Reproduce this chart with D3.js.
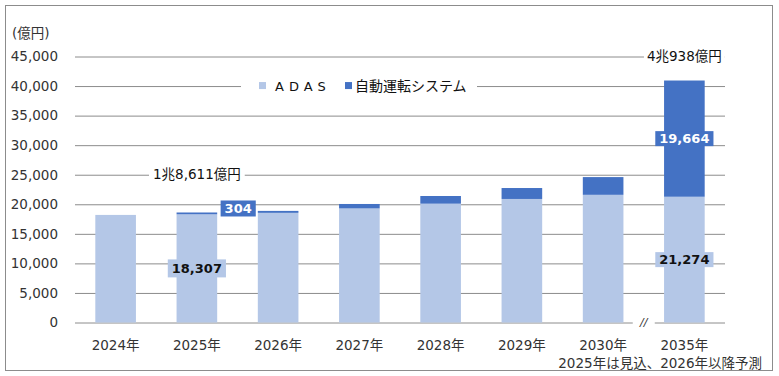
<!DOCTYPE html>
<html>
  <head>
    <meta charset="UTF-8">
    <title>ADAS / 自動運転システム 市場規模</title>
    <script src="https://cdnjs.cloudflare.com/ajax/libs/d3/7.8.5/d3.min.js"></script>
    <style type="text/css">
      body {
        margin: 0px;
        background: #fff;
      }
      svg text {
        font-family: "DejaVu Sans", "Noto Sans CJK JP", sans-serif;
      }
      .tick line {
        stroke: #8c8c8c;
      }
      .domain {
        display: none;
      }
    </style>
  </head>
  <body>
    <div id="chart"></div>
    <script>
      // data (億円)
      const years = ['2024年', '2025年', '2026年', '2027年', '2028年', '2029年', '2030年', '2035年'];
      const adas = [18200, 18307, 18550, 19300, 20100, 20900, 21600, 21274];
      const autoSys = [0, 304, 330, 750, 1300, 1850, 3000, 19664];
      const yTicks = [0, 5000, 10000, 15000, 20000, 25000, 30000, 35000, 40000, 45000];
      const seriesNames = ['ADAS', '自動運転システム'];
      const colors = ['#b4c7e7', '#4472c4'];

      const width = 779, height = 376;
      const margin = {top: 56.5, right: 54, bottom: 53.5, left: 75};

      const svg = d3.select('#chart').append('svg')
        .attr('width', width)
        .attr('height', height);

      // outer frame
      svg.append('rect')
        .attr('x', 5.5).attr('y', 5.5)
        .attr('width', 767).attr('height', 365)
        .attr('fill', 'none')
        .attr('stroke', '#8c8c8c');

      const x = d3.scaleBand()
        .domain(years)
        .range([margin.left, width - margin.right])
        .paddingInner(0.5)
        .paddingOuter(0.25);

      const y = d3.scaleLinear()
        .domain([0, 45000])
        .range([height - margin.bottom, margin.top]);

      // gridlines + tick labels
      svg.append('g')
        .attr('transform', `translate(${margin.left},0)`)
        .call(d3.axisLeft(y).tickValues(yTicks).tickSize(-(width - margin.left - margin.right)).tickPadding(17).tickFormat(d3.format(',')))
        .call(g => g.selectAll('.tick text').attr('fill', '#333').style('font-size', '13.5px'))
        .call(g => g.selectAll('.tick').filter(d => d === 0).select('line').attr('stroke', '#595959'));

      svg.append('text')
        .attr('x', 12).attr('y', 33)
        .attr('dy', '0.35em')
        .style('font-size', '13.5px')
        .attr('fill', '#333')
        .text('(億円)');

      // stacked bars
      const stacked = d3.stack().keys([0, 1])
        .value((d, k) => k === 0 ? adas[d] : autoSys[d])(d3.range(years.length));

      svg.append('g').selectAll('g')
        .data(stacked).enter().append('g')
        .attr('fill', (d, i) => colors[i])
        .selectAll('rect')
        .data(d => d).enter().append('rect')
        .attr('x', (d, i) => x(years[i]))
        .attr('width', x.bandwidth())
        .attr('y', d => y(d[1]))
        .attr('height', d => y(d[0]) - y(d[1]));

      // x labels
      svg.append('g').selectAll('text')
        .data(years).enter().append('text')
        .attr('x', d => x(d) + x.bandwidth() / 2)
        .attr('y', 345)
        .attr('dy', '0.35em')
        .attr('text-anchor', 'middle')
        .style('font-size', '13.5px')
        .attr('fill', '#333')
        .text(d => d);

      // axis break between 2030 and 2035
      const breakX = (x('2030年') + x.bandwidth() + x('2035年')) / 2;
      svg.append('rect')
        .attr('x', breakX - 11).attr('y', y(0) - 3)
        .attr('width', 22).attr('height', 6)
        .attr('fill', '#fff');
      svg.append('text')
        .attr('x', breakX).attr('y', y(0))
        .attr('dy', '0.35em')
        .attr('text-anchor', 'middle')
        .style('font-size', '11px')
        .style('font-style', 'italic')
        .attr('fill', '#333')
        .text('//');

      // label with a box behind it
      function boxLabel(cx, cy, txt, opt) {
        const g = svg.append('g');
        const t = g.append('text')
          .attr('x', cx).attr('y', cy)
          .attr('dy', '0.35em')
          .attr('text-anchor', 'middle')
          .style('font-size', opt.size || '13px')
          .style('font-weight', opt.bold ? 'bold' : 'normal')
          .attr('fill', opt.color)
          .text(txt);
        const b = t.node().getBBox();
        g.insert('rect', 'text')
          .attr('x', b.x - opt.padX).attr('y', cy - opt.h / 2)
          .attr('width', b.width + opt.padX * 2).attr('height', opt.h)
          .attr('fill', opt.bg);
      }

      const cx = i => x(years[i]) + x.bandwidth() / 2;
      const valFmt = d3.format(',');

      // totals
      boxLabel(cx(1), y(25000), '1兆8,611億円', {color: '#111', bg: '#fff', padX: 4, h: 14, size: '13.5px'});
      boxLabel(cx(7), y(45000), '4兆938億円', {color: '#111', bg: '#fff', padX: 3, h: 14, size: '13.5px'});

      // value labels
      boxLabel(cx(1), (y(0) + y(adas[1])) / 2, valFmt(adas[1]), {color: '#111', bg: colors[0], padX: 4, h: 18, bold: true});
      boxLabel(x(years[1]) + x.bandwidth() + 21, y(adas[1] + autoSys[1]) - 4, valFmt(autoSys[1]), {color: '#fff', bg: colors[1], padX: 4, h: 16, bold: true});
      boxLabel(cx(7), (y(0) + y(adas[7])) / 2, valFmt(adas[7]), {color: '#111', bg: colors[0], padX: 4, h: 15, bold: true});
      boxLabel(cx(7), (y(adas[7]) + y(adas[7] + autoSys[7])) / 2, valFmt(autoSys[7]), {color: '#fff', bg: colors[1], padX: 4, h: 15, bold: true});

      // legend
      const legend = svg.append('g');
      legend.append('rect')
        .attr('x', 241).attr('y', y(40000) - 8)
        .attr('width', 236).attr('height', 16)
        .attr('fill', '#fff');
      const legX = [259, 345];
      seriesNames.forEach((name, i) => {
        legend.append('rect')
          .attr('x', legX[i]).attr('y', y(40000) - 4)
          .attr('width', 7).attr('height', 7)
          .attr('fill', colors[i]);
        legend.append('text')
          .attr('x', legX[i] + (i === 0 ? 16 : 10))
          .attr('y', y(40000))
          .attr('dy', '0.35em')
          .style('font-size', i === 0 ? '13px' : '14px')
          .style('letter-spacing', i === 0 ? '5px' : '0px')
          .attr('fill', '#111')
          .text(name);
      });

      // footnote
      svg.append('text')
        .attr('x', 762).attr('y', 363)
        .attr('dy', '0.35em')
        .attr('text-anchor', 'end')
        .style('font-size', '13.5px')
        .attr('fill', '#333')
        .text('2025年は見込、2026年以降予測');
    </script>
  </body>
</html>
